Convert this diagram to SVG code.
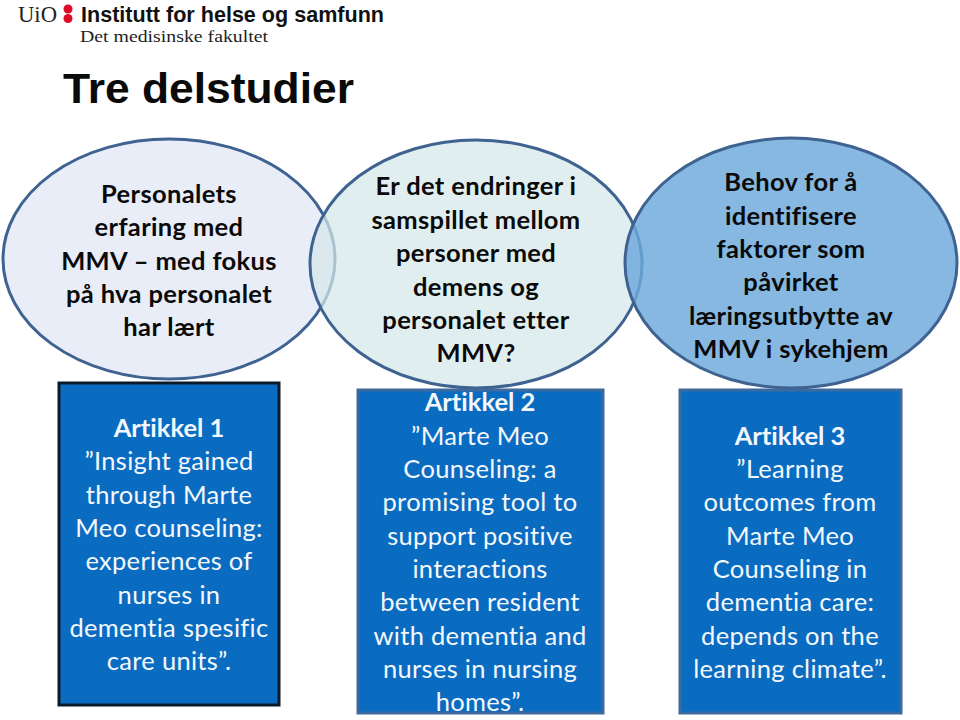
<svg xmlns="http://www.w3.org/2000/svg" width="960" height="720" viewBox="0 0 960 720">
<style>
  .oval { stroke: #3f6391; stroke-width: 3; }
  .box { fill: #0a6cc1; stroke: #3d6a9e; stroke-width: 3; }
  text { font-variant-ligatures: none; }
  .head { font-family: Lato, "Liberation Sans", sans-serif; font-weight: 700; font-size: 25.5px; letter-spacing: 0.35px; fill: #0a0a0a; text-anchor: middle; }
  .body { font-family: Lato, "Liberation Sans", sans-serif; font-weight: 400; font-size: 25.5px; letter-spacing: 0.3px; fill: #f4f8fc; text-anchor: middle; }
  .b { font-weight: 700; letter-spacing: 0; }
</style>
<rect width="960" height="720" fill="#ffffff"/>
<g id="logo">
  <text x="18" y="22" font-family="Liberation Serif, serif" font-size="24" fill="#222" textLength="39" lengthAdjust="spacingAndGlyphs">UiO</text>
  <circle cx="68" cy="9" r="4.5" fill="#dd0a2a"/>
  <circle cx="68" cy="18.500" r="4.5" fill="#dd0a2a"/>
  <text x="81" y="22" font-family="Liberation Sans, sans-serif" font-weight="700" font-size="21.5" fill="#111" textLength="303" lengthAdjust="spacingAndGlyphs">Institutt for helse og samfunn</text>
  <text x="80" y="42" font-family="Liberation Serif, serif" font-size="17" fill="#222" textLength="188" lengthAdjust="spacingAndGlyphs">Det medisinske fakultet</text>
</g>
<text id="title" x="63" y="103" font-family="Liberation Sans, sans-serif" font-weight="700" font-size="42" fill="#0a0a0a" textLength="291" lengthAdjust="spacingAndGlyphs">Tre delstudier</text>
<g id="oval1">
  <ellipse class="oval" cx="169" cy="259" rx="166" ry="120" fill="#e8edf7"/>
  <text class="head" x="169" y="203">Personalets</text>
  <text class="head" x="169" y="236">erfaring med</text>
  <text class="head" x="169" y="270">MMV – med fokus</text>
  <text class="head" x="169" y="303">på hva personalet</text>
  <text class="head" x="169" y="336">har lært</text>
</g>
<g id="oval2">
  <ellipse class="oval" cx="476" cy="264" rx="166" ry="124" fill="#d5e8ea" fill-opacity="0.72"/>
  <text class="head" x="476" y="195">Er det endringer i</text>
  <text class="head" x="476" y="229">samspillet mellom</text>
  <text class="head" x="476" y="262">personer med</text>
  <text class="head" x="476" y="296">demens og</text>
  <text class="head" x="476" y="329">personalet etter</text>
  <text class="head" x="476" y="362">MMV?</text>
</g>
<g id="oval3">
  <ellipse class="oval" cx="791" cy="263" rx="166" ry="125" fill="#6ba8db" fill-opacity="0.82"/>
  <text class="head" x="791" y="191">Behov for å</text>
  <text class="head" x="791" y="225">identifisere</text>
  <text class="head" x="791" y="258">faktorer som</text>
  <text class="head" x="791" y="291">påvirket</text>
  <text class="head" x="791" y="325">læringsutbytte av</text>
  <text class="head" x="791" y="358">MMV i sykehjem</text>
</g>
<g id="box1">
  <rect class="box" x="59" y="383" width="220" height="322" style="stroke:#0a1a2a"/>
  <text class="body b" x="169" y="437">Artikkel 1</text>
  <text class="body" x="169" y="470">”Insight gained</text>
  <text class="body" x="169" y="504">through Marte</text>
  <text class="body" x="169" y="537">Meo counseling:</text>
  <text class="body" x="169" y="570">experiences of</text>
  <text class="body" x="169" y="604">nurses in</text>
  <text class="body" x="169" y="637">dementia spesific</text>
  <text class="body" x="169" y="670">care units”.</text>
</g>
<g id="box2">
  <rect class="box" x="358" y="390" width="245" height="323"/>
  <text class="body b" x="480" y="411">Artikkel 2</text>
  <text class="body" x="480" y="445">”Marte Meo</text>
  <text class="body" x="480" y="478">Counseling: a</text>
  <text class="body" x="480" y="511">promising tool to</text>
  <text class="body" x="480" y="545">support positive</text>
  <text class="body" x="480" y="578">interactions</text>
  <text class="body" x="480" y="611">between resident</text>
  <text class="body" x="480" y="645">with dementia and</text>
  <text class="body" x="480" y="678">nurses in nursing</text>
  <text class="body" x="480" y="711">homes”.</text>
</g>
<g id="box3">
  <rect class="box" x="680" y="390" width="221" height="323"/>
  <text class="body b" x="790" y="445">Artikkel 3</text>
  <text class="body" x="790" y="478">”Learning</text>
  <text class="body" x="790" y="511">outcomes from</text>
  <text class="body" x="790" y="545">Marte Meo</text>
  <text class="body" x="790" y="578">Counseling in</text>
  <text class="body" x="790" y="611">dementia care:</text>
  <text class="body" x="790" y="645">depends on the</text>
  <text class="body" x="790" y="678">learning climate”.</text>
</g>
</svg>
